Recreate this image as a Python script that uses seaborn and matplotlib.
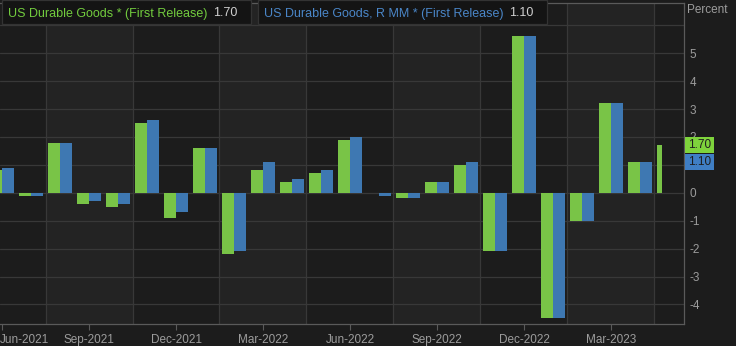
import matplotlib
matplotlib.use("Agg")
import matplotlib.pyplot as plt
import matplotlib.transforms as mtransforms
from matplotlib.patches import Rectangle
import seaborn as sns
import pandas as pd
import numpy as np

# ---------------- data ----------------
months = ["Jun-2021", "Jul-2021", "Aug-2021", "Sep-2021", "Oct-2021", "Nov-2021",
          "Dec-2021", "Jan-2022", "Feb-2022", "Mar-2022", "Apr-2022", "May-2022",
          "Jun-2022", "Jul-2022", "Aug-2022", "Sep-2022", "Oct-2022", "Nov-2022",
          "Dec-2022", "Jan-2023", "Feb-2023", "Mar-2023", "Apr-2023", "May-2023"]
first_release = [0.8, -0.1, 1.8, -0.4, -0.5, 2.5, -0.9, 1.6, -2.2, 0.8, 0.4, 0.7,
                 1.9, 0.0, -0.2, 0.4, 1.0, -2.1, 5.6, -4.5, -1.0, 3.2, 1.1, 1.7]
revised_mm = [0.9, -0.1, 1.8, -0.3, -0.4, 2.6, -0.7, 1.6, -2.1, 1.1, 0.5, 0.8,
              2.0, -0.1, -0.2, 0.4, 1.1, -2.1, 5.6, -4.5, -1.0, 3.2, 1.1, np.nan]
series_names = ["US Durable Goods * (First Release)",
                "US Durable Goods, R MM * (First Release)"]
tick_labels = ["Jun-2021", "Sep-2021", "Dec-2021", "Mar-2022",
               "Jun-2022", "Sep-2022", "Dec-2022", "Mar-2023"]
y_ticks = [-4, -3, -2, -1, 0, 1, 2, 3, 4, 5]
axis_title = "Percent"

# ---------------- styling ----------------
GREEN = "#79c447"
BLUE = "#3e78b2"
BADGE_GREEN = "#7ed33c"
BADGE_BLUE = "#3f7ec4"
BG = "#1c1c1c"
BAND = "#232323"
GRID = "#383838"
TXT = "#9c9c9c"

sns.set_theme(style="dark")
plt.rcParams["font.family"] = ["Liberation Sans", "DejaVu Sans"]

df = pd.DataFrame({
    "month": months * 2,
    "value": first_release + revised_mm,
    "series": [series_names[0]] * len(months) + [series_names[1]] * len(months),
})

W, H = 736, 346
fig = plt.figure(figsize=(W / 100, H / 100), dpi=100)
fig.patch.set_facecolor(BG)
ax = fig.add_axes([0, (H - 324) / H, 684 / W, (324 - 3) / H])
ax.set_facecolor(BG)

# alternating background bands + grid
n = len(months)
edges = np.arange(-1.5, n + 1.5, 3)
for k, e in enumerate(edges):
    if k % 2 == 1:
        ax.axvspan(e, e + 3, color=BAND, zorder=0, lw=0)
for e in edges:
    ax.axvline(e, color=GRID, lw=0.9, zorder=0.5)
for yv in range(-4, 7):
    ax.axhline(yv, color=GRID, lw=0.9, zorder=0.5)

sns.barplot(data=df, x="month", y="value", hue="series", order=months,
            hue_order=series_names, palette=[GREEN, BLUE], saturation=1,
            width=0.82, errorbar=None, linewidth=0, legend=False, ax=ax, zorder=2)

# latest (partial-period) bar is drawn narrower, as in the source chart
last_bar = ax.containers[0][-1]
last_bar.set_width(last_bar.get_width() * 0.42)

ax.set_xlim(-0.07, 23.52)
ax.set_ylim(-4.70, 6.80)
ax.set_xlabel("")
ax.set_ylabel("")
ax.grid(False)

# x ticks
pos = [months.index(t) for t in tick_labels]
ax.set_xticks(pos)
ax.set_xticklabels(tick_labels)
ax.tick_params(axis="x", bottom=True, length=4, width=0.8, color="#5a5a5a", pad=3)
for t in ax.get_xticklabels():
    t.set_color(TXT)
    t.set_fontsize(8.5)
first = ax.get_xticklabels()[0]
first.set_horizontalalignment("left")
offset = mtransforms.ScaledTranslation(-2 / 100, 0, fig.dpi_scale_trans)
first.set_transform(first.get_transform() + offset)

# y ticks on the right
ax.yaxis.tick_right()
ax.set_yticks(y_ticks)
ax.set_yticklabels(["" if v == 1 else str(v) for v in y_ticks], color=TXT, fontsize=8.5)
ax.tick_params(axis="y", right=False, left=False, length=0, pad=4)

ax.spines["left"].set_visible(False)
for s in ["bottom", "right", "top"]:
    ax.spines[s].set_visible(True)
    ax.spines[s].set_color("#5a5a5a")
    ax.spines[s].set_linewidth(0.9)

fig.text(687 / W, 1 - 10 / H, axis_title, color=TXT, fontsize=8.5, va="center", ha="left")

# value badges on the right axis (fixed-size boxes centred on the value)
last_green = first_release[-1]
last_blue = [v for v in revised_mm if not np.isnan(v)][-1]
fig.canvas.draw()
for val, col in [(last_green, BADGE_GREEN), (last_blue, BADGE_BLUE)]:
    ypix = ax.transData.transform((0, val))[1]  # from bottom, in pixels
    fig.patches.append(Rectangle(((685) / W, (ypix - 8) / H), 29 / W, 16 / H,
                                 transform=fig.transFigure, fc=col, ec="none",
                                 zorder=10))
    fig.text(699.5 / W, ypix / H, f"{val:.2f}", color="#1e1e1e", fontsize=8.5,
             ha="center", va="center", zorder=11)

# legend boxes at the top
def px(x, y):
    return x / W, 1 - y / H

boxes = [(2, 251, series_names[0], "#72cc3e", last_green),
         (258, 547, series_names[1], "#4a86c8", last_blue)]
for x0, x1, name, col, val in boxes:
    fig.patches.append(Rectangle(px(x0, 24), (x1 - x0) / W, 24 / H,
                                 transform=fig.transFigure, fc="#141414",
                                 ec="#333333", lw=0.9, zorder=10))
    tx, ty = px(x0 + 6, 13.5)
    t = fig.text(tx, ty, name, color=col, fontsize=9, va="center", ha="left", zorder=11)
    fig.canvas.draw()
    bb = t.get_window_extent()
    fig.text((bb.x1 + 6) / W, ty, f"{val:.2f}", color="#d0d0d0", fontsize=9,
             va="center", ha="left", zorder=11)

fig.savefig("out.png", dpi=100, facecolor=BG)
